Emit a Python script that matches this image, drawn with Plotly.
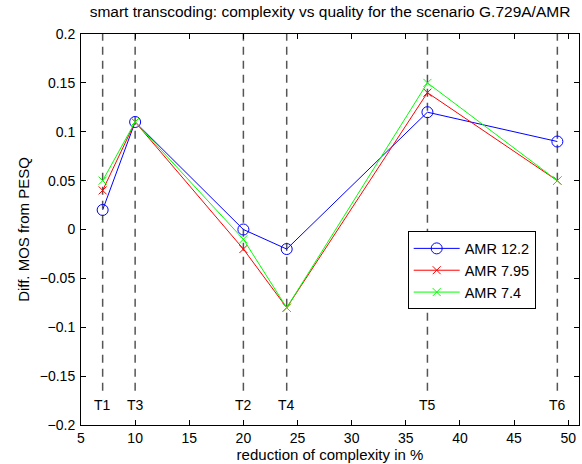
import plotly.graph_objects as go

# Transcoding points: position (reduction of complexity in %) and labels
points_x = [7, 10, 20, 24, 37, 49]
point_labels = ["T1", "T3", "T2", "T4", "T5", "T6"]

# Difference in MOS from PESQ for each AMR mode
amr_122 = [0.02, 0.11, 0.00, -0.02, 0.12, 0.09]
amr_795 = [0.04, 0.11, -0.02, -0.08, 0.14, 0.05]
amr_74 = [0.05, 0.11, -0.01, -0.08, 0.15, 0.05]

x_ticks = [5, 10, 15, 20, 25, 30, 35, 40, 45, 50]
y_ticks = [-0.2, -0.15, -0.1, -0.05, 0, 0.05, 0.1, 0.15, 0.2]
y_tick_text = ["\u22120.2", "\u22120.15", "\u22120.1", "\u22120.05", "0", "0.05", "0.1", "0.15", "0.2"]

FONT = "Liberation Sans, Arial, Helvetica, sans-serif"

fig = go.Figure()

# Vertical dashed guides at each transcoding point
for x in points_x:
    fig.add_shape(type="line", xref="x", yref="y", x0=x, x1=x, y0=-0.165, y1=0.2,
                  line=dict(color="#555555", width=1.5, dash="8px,6px"), layer="below")
for x, lab in zip(points_x, point_labels):
    fig.add_annotation(x=x, y=-0.18, xref="x", yref="y", text=lab, showarrow=False,
                       font=dict(family=FONT, size=14, color="black"))

fig.add_trace(go.Scatter(x=points_x, y=amr_122, mode="lines+markers", name="AMR 12.2",
                         line=dict(color="#0000ff", width=1),
                         marker=dict(symbol="circle-open", size=11, color="#0000ff",
                                     line=dict(width=1, color="#0000ff"))))
fig.add_trace(go.Scatter(x=points_x, y=amr_795, mode="lines+markers", name="AMR 7.95",
                         line=dict(color="#ff0000", width=1),
                         marker=dict(symbol="x-thin-open", size=8, color="#ff0000",
                                     line=dict(width=1, color="#ff0000"))))
fig.add_trace(go.Scatter(x=points_x, y=amr_74, mode="lines+markers", name="AMR 7.4",
                         line=dict(color="#00ff00", width=1),
                         marker=dict(symbol="x-thin-open", size=8, color="#00ff00",
                                     line=dict(width=1, color="#00ff00"))))

axis_common = dict(showgrid=False, zeroline=False, showline=True, linecolor="black",
                   linewidth=1, mirror="allticks", ticks="inside", ticklen=5,
                   tickcolor="black", tickfont=dict(family=FONT, size=14, color="black"))

fig.update_xaxes(range=[5, 51], tickvals=x_ticks, ticktext=[str(v) for v in x_ticks],
                 title=dict(text="reduction of complexity in %", standoff=2,
                            font=dict(family=FONT, size=15, color="black")),
                 **axis_common)
fig.update_yaxes(range=[-0.2, 0.2], tickvals=y_ticks, ticktext=y_tick_text,
                 ticklabelstandoff=2,
                 title=dict(text="Diff. MOS from PESQ", standoff=6,
                            font=dict(family=FONT, size=15, color="black")),
                 **axis_common)

fig.update_layout(
    width=582, height=464,
    margin=dict(l=81, r=3, t=34, b=39),
    paper_bgcolor="white", plot_bgcolor="white",
    title=dict(text="smart transcoding: complexity vs quality for the scenario G.729A/AMR",
               x=0.567, xanchor="center", y=0.974, yanchor="middle",
               font=dict(family=FONT, size=15.5, color="black")),
    showlegend=True,
    legend=dict(x=0.656, y=0.495, xanchor="left", yanchor="top",
                bgcolor="white", bordercolor="black", borderwidth=1,
                font=dict(family=FONT, size=14.5, color="black"),
                tracegroupgap=0, itemwidth=46),
    font=dict(family=FONT),
)

fig.write_html("out.html")
